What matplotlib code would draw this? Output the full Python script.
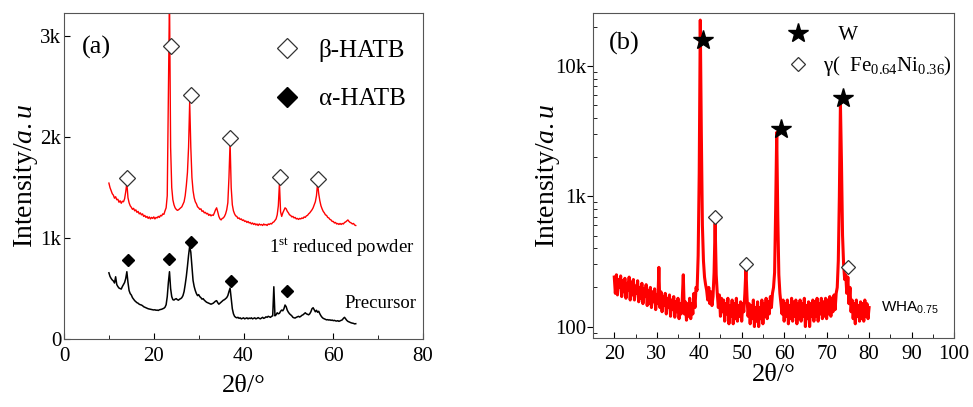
import numpy as np
import matplotlib
matplotlib.use("Agg")
import matplotlib.pyplot as plt
from matplotlib.lines import Line2D
from matplotlib.ticker import MultipleLocator, FuncFormatter, LogLocator

plt.rcParams['font.family'] = ['Liberation Serif', 'DejaVu Serif']
plt.rcParams['mathtext.fontset'] = 'custom'
plt.rcParams['mathtext.rm'] = 'Liberation Serif'
plt.rcParams['mathtext.it'] = 'Liberation Serif:italic'
plt.rcParams['mathtext.sf'] = 'Liberation Sans'

# ---- panel (a): 2theta from 10 to 65, step 0.25 ----
theta_a = np.arange(10.0, 65.001, 0.25)

reduced = [
    1545, 1500, 1470, 1440, 1425, 1395, 1410, 1380,
    1385, 1355, 1370, 1345, 1365, 1360, 1390, 1460,
    1545, 1400, 1350, 1320, 1305, 1285, 1295, 1270,
    1280, 1255, 1265, 1240, 1250, 1230, 1240, 1215,
    1225, 1205, 1215, 1195, 1210, 1190, 1205, 1195,
    1210, 1190, 1205, 1200, 1215, 1205, 1225, 1220,
    1240, 1235, 1270, 1300, 1420, 2400, 3400, 1900,
    1500, 1380, 1330, 1300, 1285, 1275, 1280, 1290,
    1300, 1310, 1335, 1360, 1420, 1520, 1650, 1900,
    2350, 1900, 1600, 1470, 1400, 1360, 1340, 1310,
    1300, 1285, 1290, 1265, 1270, 1250, 1255, 1240,
    1245, 1225, 1235, 1220, 1230, 1225, 1250, 1280,
    1300, 1260, 1215, 1190, 1180, 1195, 1200, 1215,
    1240, 1280, 1350, 1600, 1950, 1500, 1330, 1270,
    1240, 1220, 1215, 1195, 1200, 1185, 1190, 1175,
    1180, 1165, 1170, 1155, 1165, 1150, 1155, 1140,
    1150, 1135, 1145, 1130, 1140, 1125, 1140, 1130,
    1135, 1125, 1140, 1130, 1135, 1125, 1140, 1135,
    1145, 1140, 1155, 1160, 1175, 1190, 1230, 1320,
    1545, 1260, 1215, 1250, 1275, 1300, 1290, 1265,
    1250, 1230, 1225, 1210, 1215, 1200, 1205, 1190,
    1195, 1185, 1195, 1190, 1200, 1195, 1210, 1205,
    1220, 1225, 1240, 1250, 1265, 1280, 1300, 1330,
    1360, 1420, 1545, 1440, 1370, 1320, 1290, 1265,
    1250, 1230, 1225, 1205, 1200, 1185, 1180, 1165,
    1165, 1150, 1155, 1140, 1145, 1135, 1145, 1135,
    1145, 1140, 1155, 1160, 1170, 1180, 1165, 1155,
    1150, 1140, 1145, 1130, 1125,
]

precursor = [
    656, 620, 600, 585, 575, 555, 617, 540,
    520, 505, 500, 495, 520, 540, 560, 600,
    667, 560, 480, 450, 436, 410, 395, 380,
    370, 360, 355, 345, 340, 337, 330, 320,
    315, 310, 305, 300, 298, 295, 292, 290,
    288, 290, 285, 287, 283, 290, 292, 295,
    300, 305, 315, 340, 420, 560, 667, 500,
    420, 390, 386, 395, 400, 390, 385, 395,
    400, 410, 430, 470, 540, 620, 720, 830,
    920, 860, 720, 580, 520, 480, 450, 430,
    440, 420, 410, 395, 400, 385, 375, 365,
    360, 355, 350, 345, 350, 355, 365, 375,
    380, 360, 345, 355, 365, 375, 385, 390,
    400, 410, 430, 470, 505, 400, 300, 250,
    225, 215, 210, 215, 205, 210, 200, 205,
    210, 200, 205, 210, 200, 208, 203, 210,
    200, 205, 210, 200, 205, 212, 205, 200,
    208, 215, 205, 210, 220, 215, 225, 220,
    215, 225, 230, 518, 230, 240, 260, 250,
    255, 275, 287, 280, 300, 337, 320, 285,
    265, 250, 240, 230, 215, 210, 208, 215,
    220, 225, 218, 225, 235, 240, 250, 260,
    250, 245, 240, 250, 270, 300, 310, 290,
    270, 285, 265, 275, 250, 230, 215, 205,
    200, 195, 190, 192, 188, 190, 185, 188,
    182, 185, 180, 178, 182, 175, 180, 185,
    190, 205, 215, 200, 185, 175, 170, 165,
    160, 158, 155, 150, 152,
]

beta_x = [14.0, 23.8, 28.2, 37.0, 48.1, 56.6]
beta_y = [1594, 2904, 2416, 1993, 1607, 1584]
alpha_x = [14.2, 23.5, 28.3, 37.3, 49.7]
alpha_y = [782, 789, 963, 574, 478]

# ---- panel (b): 2theta from 20 to 80, step 0.25 ----
theta_b = np.arange(20.0, 80.001, 0.25)

wha = [
    240, 180, 250, 175, 230, 200, 245, 170,
    225, 185, 235, 165, 215, 190, 240, 160,
    220, 175, 230, 160, 205, 180, 225, 155,
    200, 165, 215, 150, 195, 170, 210, 145,
    190, 150, 200, 140, 185, 155, 195, 135,
    175, 150, 285, 140, 185, 130, 170, 145,
    180, 125, 165, 140, 175, 120, 160, 135,
    170, 118, 155, 130, 165, 115, 150, 125,
    160, 250, 125, 155, 112, 150, 120, 165,
    115, 150, 125, 180, 140, 200, 190, 350,
    1500, 22600, 3000, 600, 320, 240, 210, 190,
    160, 200, 150, 185, 145, 170, 260, 620,
    250, 180, 140, 175, 120, 165, 130, 160,
    110, 150, 125, 165, 105, 145, 120, 160,
    105, 150, 115, 165, 110, 145, 120, 155,
    110, 150, 130, 180, 280, 170, 120, 150,
    105, 145, 115, 160, 100, 140, 110, 155,
    100, 140, 115, 160, 105, 150, 120, 165,
    115, 155, 125, 170, 140, 180, 200, 260,
    800, 3100, 700, 250, 180, 150, 125, 160,
    110, 150, 120, 160, 105, 145, 115, 165,
    110, 155, 120, 160, 105, 150, 115, 160,
    110, 150, 120, 165, 100, 145, 115, 155,
    100, 150, 120, 160, 110, 155, 120, 165,
    110, 150, 125, 165, 115, 155, 120, 165,
    115, 160, 125, 170, 120, 165, 130, 175,
    135, 180, 200, 320, 1000, 5200, 1800, 500,
    300, 230, 250, 180, 240, 150, 200, 130,
    160, 115, 150, 105, 160, 120, 145, 110,
    155, 115, 150, 110, 160, 120, 150, 115,
    140,
]

w_x = [40.8, 59.3, 73.8]
w_y = [15900, 3270, 5680]
gamma_x = [43.8, 51.1, 75.1]
gamma_y = [698, 303, 288]

fig = plt.figure(figsize=(9.73, 4.07), dpi=100)

# ---------------- (a) ----------------
ax1 = fig.add_axes([0.0658, 0.167, 0.369, 0.801])
ax1.plot(theta_a, reduced, color='#ff0000', lw=1.0)
ax1.plot(theta_a, precursor, color='black', lw=1.1)
ax1.plot(beta_x, beta_y, ls='none', marker='D', ms=8, mfc='white',
         mec='#333333', mew=0.9)
ax1.plot(alpha_x, alpha_y, ls='none', marker='D', ms=6.5, color='black')

ax1.set_xlim(0, 80)
ax1.set_ylim(0, 3230)
ax1.xaxis.set_major_locator(MultipleLocator(20))
ax1.xaxis.set_minor_locator(MultipleLocator(10))
ax1.yaxis.set_major_locator(MultipleLocator(1000))
ax1.yaxis.set_major_formatter(FuncFormatter(
    lambda v, p: '0' if v == 0 else '%dk' % int(v / 1000)))
ax1.tick_params(which='both', direction='in', labelsize=15, top=False, right=False)
ax1.tick_params(which='major', length=4)
ax1.tick_params(which='minor', length=3)
ax1.tick_params(axis='x', pad=6)
ax1.tick_params(axis='y', pad=2)
ax1.set_xlabel('2θ/°', fontsize=19, labelpad=6)
ax1.set_ylabel('Intensity/$\\mathit{a.u}$', fontsize=20, labelpad=0)

ax1.text(0.05, 0.895, '(a)', transform=ax1.transAxes, fontsize=19, va='center')
ax1.text(45.7, 914, '1$^{\\mathrm{st}}$ reduced powder', fontsize=13.5, va='center')
ax1.text(62.4, 356, 'Precursor', fontsize=13.5, va='center')

leg_a = [
    Line2D([], [], ls='none', marker='D', ms=10, mfc='white', mec='#333333', mew=0.9),
    Line2D([], [], ls='none', marker='D', ms=10, color='black'),
]
ax1.legend(leg_a, ['β-HATB', 'α-HATB'], loc='upper right', frameon=False,
           fontsize=18, labelspacing=1.05, handletextpad=0.25,
           bbox_to_anchor=(1.0, 0.975), borderaxespad=0.3)

for s in ax1.spines.values():
    s.set_color('#555555')

# ---------------- (b) ----------------
ax2 = fig.add_axes([0.6095, 0.17, 0.371, 0.798])
ax2.plot(theta_b, wha, color='#ff0000', lw=2.2)
ax2.plot(w_x, w_y, ls='none', marker='*', ms=15, color='black')
ax2.plot(gamma_x, gamma_y, ls='none', marker='D', ms=7.5, mfc='white',
         mec='#333333', mew=0.9)

ax2.set_yscale('log')
ax2.set_xlim(15, 100)
ax2.set_ylim(82, 25600)
ax2.xaxis.set_major_locator(MultipleLocator(10))
ax2.xaxis.set_minor_locator(MultipleLocator(5))
ax2.yaxis.set_major_locator(LogLocator(base=10))
ax2.yaxis.set_minor_locator(LogLocator(base=10, subs=np.arange(2, 10)))
ax2.yaxis.set_major_formatter(FuncFormatter(
    lambda v, p: '%dk' % int(round(v / 1000)) if v >= 1000 else '%d' % int(round(v))))
ax2.yaxis.set_minor_formatter(FuncFormatter(lambda v, p: ''))
ax2.tick_params(which='both', direction='in', labelsize=15, top=False, right=False)
ax2.tick_params(axis='y', which='major', direction='out', length=4, pad=1)
ax2.tick_params(axis='y', which='minor', length=3)
ax2.tick_params(axis='x', which='major', length=4, pad=5)
ax2.tick_params(axis='x', which='minor', length=3)
ax2.set_xlabel('2θ/°', fontsize=19, labelpad=0)
ax2.set_ylabel('Intensity/$\\mathit{a.u}$', fontsize=20)
ax2.yaxis.set_label_coords(-0.085, 0.5)

ax2.text(0.045, 0.905, '(b)', transform=ax2.transAxes, fontsize=19, va='center')
ax2.text(82.7, 140, 'WHA$_{\\mathsf{0.75}}$', fontsize=11, va='center',
         family='Liberation Sans')

leg_b = [
    Line2D([], [], ls='none', marker='*', ms=15, color='black'),
    Line2D([], [], ls='none', marker='D', ms=7.5, mfc='white', mec='#333333', mew=0.9),
]
ax2.legend(leg_b, ['   W', 'γ(  Fe$_{0.64}$Ni$_{0.36}$)'], loc='upper right',
           frameon=False, fontsize=15, labelspacing=0.45, handletextpad=0.2,
           bbox_to_anchor=(1.03, 1.0), borderaxespad=0.2)

for s in ax2.spines.values():
    s.set_color('#555555')

fig.savefig('out.png', dpi=100)
